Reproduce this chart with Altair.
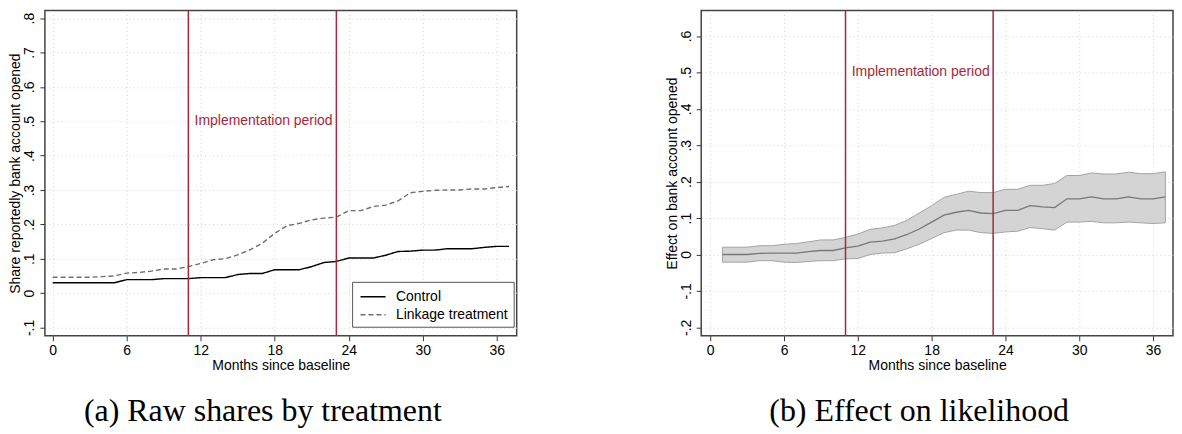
import altair as alt
import pandas as pd

# ---------- data ----------
months_a = list(range(0, 38))
control = [0.030, 0.030, 0.030, 0.030, 0.030, 0.030, 0.039, 0.039, 0.039, 0.042,
           0.042, 0.042, 0.045, 0.045, 0.045, 0.054, 0.057, 0.057, 0.068, 0.068,
           0.068, 0.077, 0.089, 0.092, 0.102, 0.102, 0.102, 0.110, 0.121, 0.122,
           0.125, 0.125, 0.129, 0.129, 0.129, 0.133, 0.136, 0.136]
linkage = [0.046, 0.046, 0.046, 0.046, 0.048, 0.050, 0.058, 0.060, 0.064, 0.070,
           0.070, 0.077, 0.086, 0.097, 0.100, 0.111, 0.126, 0.145, 0.174, 0.196,
           0.203, 0.213, 0.218, 0.221, 0.240, 0.240, 0.252, 0.256, 0.268, 0.292,
           0.296, 0.299, 0.300, 0.300, 0.303, 0.303, 0.307, 0.310]
group_names = ["Control", "Linkage treatment"]

months_b = list(range(1, 38))
effect = [0.000, 0.000, 0.000, 0.003, 0.004, 0.004, 0.004, 0.008, 0.011, 0.011,
          0.018, 0.023, 0.034, 0.037, 0.043, 0.055, 0.070, 0.089, 0.108, 0.116,
          0.121, 0.114, 0.112, 0.121, 0.121, 0.134, 0.131, 0.129, 0.153, 0.153,
          0.158, 0.153, 0.153, 0.158, 0.153, 0.153, 0.158]
lower = [-0.021, -0.021, -0.021, -0.017, -0.017, -0.021, -0.022, -0.019, -0.017, -0.017,
         -0.012, -0.011, 0.000, 0.004, 0.005, 0.016, 0.028, 0.044, 0.060, 0.067,
         0.067, 0.060, 0.058, 0.062, 0.064, 0.074, 0.071, 0.067, 0.089, 0.089,
         0.091, 0.087, 0.087, 0.089, 0.087, 0.085, 0.087]
upper = [0.020, 0.020, 0.020, 0.024, 0.024, 0.028, 0.030, 0.035, 0.040, 0.040,
         0.047, 0.056, 0.069, 0.073, 0.080, 0.094, 0.114, 0.134, 0.157, 0.165,
         0.174, 0.170, 0.170, 0.179, 0.179, 0.190, 0.190, 0.195, 0.217, 0.217,
         0.224, 0.221, 0.221, 0.226, 0.222, 0.222, 0.227]

impl_months = [11, 23]
impl_label = ["Implementation period"]
impl_label_x = [11.5]
impl_label_y = [0.5]

x_ticks = [0, 6, 12, 18, 24, 30, 36]
y_ticks_a = [-0.1, 0.0, 0.1, 0.2, 0.3, 0.4, 0.5, 0.6, 0.7, 0.8]
y_ticks_b = [-0.2, -0.1, 0.0, 0.1, 0.2, 0.3, 0.4, 0.5, 0.6]

captions = ["(a) Raw shares by treatment", "(b) Effect on likelihood"]
y_titles = ["Share reportedly bank account opened", "Effect on bank account opened"]
x_title = "Months since baseline"

# ---------- styling ----------
SANS = "Liberation Sans"
SERIF = "Liberation Serif"
RED = "#a3293b"
W, H = 473, 326
FS = 14

lab_expr = ("datum.value == 0 ? '0' : (datum.value < 0 ? '-' : '') + "
            "slice(format(abs(datum.value), '.1f'), 1)")


def x_axis():
    return alt.Axis(values=x_ticks, title=x_title, grid=True,
                    gridColor="#d2d2d2", gridDash=[1, 3], gridWidth=1,
                    domain=False, tickSize=5, tickColor="#333", tickWidth=1,
                    labelFont=SANS, labelFontSize=FS, labelColor="black",
                    labelPadding=3, labelFlush=False, labelOverlap=False,
                    titleFont=SANS, titleFontSize=FS,
                    titleFontWeight="normal", titleColor="black", titlePadding=1)


def y_axis(values, title):
    return alt.Axis(values=values, title=title, grid=True, gridColor="#d2d2d2",
                    gridDash=[1, 3], gridWidth=1, domain=False, tickSize=5,
                    tickColor="#333", tickWidth=1, labelAngle=270,
                    labelExpr=lab_expr, labelFont=SANS, labelFontSize=FS,
                    labelColor="black", labelPadding=3, labelAlign="center",
                    labelBaseline="bottom", labelOverlap=False, labelFlush=False,
                    titleFont=SANS, titleFontSize=FS, titleFontWeight="normal",
                    titleColor="black", titlePadding=0)


def caption(text):
    return alt.TitleParams(text=text, orient="bottom", anchor="middle",
                           frame="bounds", font=SERIF, fontSize=32,
                           fontWeight="normal", color="black", offset=24)


# ---------- panel (a) ----------
df_a = pd.DataFrame({
    "month": months_a * 2,
    "share": control + linkage,
    "group": [group_names[0]] * len(months_a) + [group_names[1]] * len(months_a),
})
xs_a = alt.Scale(domain=[-0.63, 37.62], nice=False, zero=False)
ys_a = alt.Scale(domain=[-0.124, 0.822], nice=False, zero=False)
XA = alt.X("month:Q", scale=xs_a, axis=x_axis())
YA = alt.Y("share:Q", scale=ys_a, axis=y_axis(y_ticks_a, y_titles[0]))

leg = alt.Legend(title=None, orient="none", legendX=308, legendY=272,
                 fillColor="white", strokeColor="#555", padding=5,
                 symbolType="M-1.4,0L1.4,0", symbolSize=324,
                 symbolStrokeWidth=1.4, symbolOffset=6,
                 labelFont=SANS, labelFontSize=FS, labelColor="black",
                 rowPadding=1, labelOffset=13, cornerRadius=0)

lines_a = alt.Chart(df_a).mark_line(strokeWidth=1.4).encode(
    x=XA, y=YA,
    color=alt.Color("group:N", scale=alt.Scale(domain=group_names,
                                               range=["#000000", "#6e6e6e"]),
                    legend=leg),
    strokeDash=alt.StrokeDash("group:N",
                              scale=alt.Scale(domain=group_names,
                                              range=[[1, 0], [5, 3]]),
                              legend=leg),
)

rules_a = alt.Chart(pd.DataFrame({"month": impl_months})).mark_rule(
    color=RED, strokeWidth=1.5).encode(x=XA)

text_a = alt.Chart(pd.DataFrame({"month": impl_label_x, "share": impl_label_y,
                                 "t": impl_label})).mark_text(
    align="left", baseline="middle", font=SANS, fontSize=FS, color=RED
).encode(x=XA, y=YA, text="t:N")

panel_a = alt.layer(lines_a, rules_a, text_a).properties(
    width=W, height=H, title=caption(captions[0]))

# ---------- panel (b) ----------
df_b = pd.DataFrame({"month": months_b, "effect": effect,
                     "lower": lower, "upper": upper})
xs_b = alt.Scale(domain=[-0.73, 37.62], nice=False, zero=False)
ys_b = alt.Scale(domain=[-0.223, 0.670], nice=False, zero=False)
XB = alt.X("month:Q", scale=xs_b, axis=x_axis())
yax_b = y_axis(y_ticks_b, y_titles[1])

band = alt.Chart(df_b).mark_area(fill="#d4d4d4", stroke="#a3a3a3",
                                 strokeWidth=1, opacity=1).encode(
    x=XB, y=alt.Y("lower:Q", scale=ys_b, axis=yax_b), y2="upper:Q")

line_b = alt.Chart(df_b).mark_line(color="#787878", strokeWidth=1.3).encode(
    x=XB, y=alt.Y("effect:Q", scale=ys_b, axis=yax_b))

rules_b = alt.Chart(pd.DataFrame({"month": impl_months})).mark_rule(
    color=RED, strokeWidth=1.5).encode(x=XB)

text_b = alt.Chart(pd.DataFrame({"month": impl_label_x, "effect": impl_label_y,
                                 "t": impl_label})).mark_text(
    align="left", baseline="middle", font=SANS, fontSize=FS, color=RED
).encode(x=XB, y=alt.Y("effect:Q", scale=ys_b, axis=yax_b), text="t:N")

panel_b = alt.layer(band, line_b, rules_b, text_b).properties(
    width=W, height=H, title=caption(captions[1]))

chart = alt.hconcat(panel_a, panel_b, spacing=147).properties(
    padding={"left": 0, "top": 0, "right": 0, "bottom": 0},
    background="white",
).resolve_scale(color="independent", strokeDash="independent").configure_view(
    stroke="#444444", strokeWidth=1.5).configure_axis(labelOverlap=False)

chart.save("out.html", embed_options={"renderer": "svg", "actions": False})
